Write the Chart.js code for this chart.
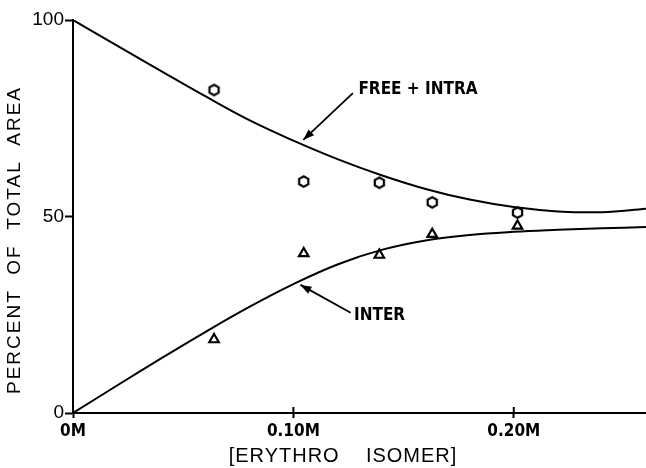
<!DOCTYPE html>
<html><head><meta charset="utf-8">
<script src="https://cdn.jsdelivr.net/npm/chart.js@4/dist/chart.umd.min.js"></script>
<style>html,body{margin:0;padding:0;background:#fff}#wrap{width:646px;height:468px;position:relative}</style>
</head><body><div id="wrap"><canvas id="c"></canvas></div>
<script>
// Fitted curves (x in mol/L, y in percent)
const freeIntraCurveX = [0, 0.02, 0.04, 0.06, 0.08, 0.10, 0.12, 0.14, 0.16, 0.18, 0.20, 0.22, 0.24, 0.26];
const freeIntraCurveY = [100, 93.5, 87.0, 80.6, 74.5, 69.3, 64.6, 60.5, 57.0, 54.3, 52.4, 51.3, 51.1, 52.0];
const interCurveX = [0, 0.02, 0.04, 0.06, 0.08, 0.10, 0.12, 0.14, 0.16, 0.18, 0.20, 0.22, 0.24, 0.26];
const interCurveY = [0, 7.0, 13.9, 20.6, 27.0, 32.8, 37.8, 41.5, 43.9, 45.3, 46.1, 46.6, 47.0, 47.3];
// Measured points
const sampleX = [0.064, 0.1047, 0.139, 0.163, 0.2017];
const freeIntraPoints = [82.2, 58.9, 58.6, 53.6, 51.0];
const interPoints = [18.7, 40.6, 40.2, 45.5, 47.6];
// Axes
const xTicks = [0, 0.1, 0.2];
const xTickLabels = ['0M', '0.10M', '0.20M'];
const yTicks = [0, 50, 100];
const xTitle = '[ERYTHRO    ISOMER]';
const yTitle = 'PERCENT  OF  TOTAL  AREA';
// Curve labels (anchor positions in data units)
const curveLabels = [
  {text: 'FREE + INTRA', at: [0.1295, 82.4], from: [0.127, 81.4], to: [0.1045, 69.5]},
  {text: 'INTER', at: [0.1275, 24.9], from: [0.126, 25.5], to: [0.1032, 32.6]}
];

const pts = (xs, ys) => xs.map((x, i) => ({x, y: ys[i]}));

function hexImage(r) {
  const s = Math.ceil(r * 2 + 4);
  const cv = document.createElement('canvas');
  cv.width = s; cv.height = s;
  const g = cv.getContext('2d');
  g.beginPath();
  for (let k = 0; k < 6; k++) {
    const a = Math.PI / 2 + k * Math.PI / 3;
    const px = s / 2 + r * Math.cos(a), py = s / 2 + r * Math.sin(a);
    k ? g.lineTo(px, py) : g.moveTo(px, py);
  }
  g.closePath();
  g.fillStyle = '#fff'; g.fill();
  g.lineWidth = 2.2; g.strokeStyle = '#000'; g.stroke();
  return cv;
}

const overlay = {
  id: 'overlay',
  afterDraw(chart) {
    const {ctx, scales: {x, y}} = chart;
    ctx.save();
    // x tick crosses above the axis
    ctx.strokeStyle = '#000'; ctx.lineWidth = 2;
    xTicks.forEach(v => {
      if (v === 0) return;
      const px = x.getPixelForValue(v);
      ctx.beginPath(); ctx.moveTo(px, y.bottom - 6); ctx.lineTo(px, y.bottom); ctx.stroke();
    });
    // curve labels and arrows
    ctx.fillStyle = '#000';
    ctx.font = 'bold 17px "Liberation Sans Narrow", "DejaVu Sans Condensed", sans-serif';
    ctx.textBaseline = 'middle'; ctx.textAlign = 'left';
    curveLabels.forEach(l => {
      ctx.fillText(l.text, x.getPixelForValue(l.at[0]), y.getPixelForValue(l.at[1]));
      const x0 = x.getPixelForValue(l.from[0]), y0 = y.getPixelForValue(l.from[1]);
      const x1 = x.getPixelForValue(l.to[0]), y1 = y.getPixelForValue(l.to[1]);
      ctx.lineWidth = 1.8;
      ctx.beginPath(); ctx.moveTo(x0, y0); ctx.lineTo(x1, y1); ctx.stroke();
      const ang = Math.atan2(y1 - y0, x1 - x0), L = 11, W = 4;
      ctx.beginPath();
      ctx.moveTo(x1, y1);
      ctx.lineTo(x1 - L * Math.cos(ang) + W * Math.sin(ang), y1 - L * Math.sin(ang) - W * Math.cos(ang));
      ctx.lineTo(x1 - L * Math.cos(ang) - W * Math.sin(ang), y1 - L * Math.sin(ang) + W * Math.cos(ang));
      ctx.closePath(); ctx.fill();
    });
    // axis titles
    ctx.font = '20px "Liberation Sans", Arial, sans-serif';
    ctx.textAlign = 'center'; ctx.textBaseline = 'middle';
    ctx.letterSpacing = '1px';
    ctx.fillText(xTitle, 343, 456);
    ctx.save();
    ctx.translate(15, 240); ctx.rotate(-Math.PI / 2);
    ctx.font = '19px "Liberation Sans", Arial, sans-serif';
    ctx.letterSpacing = '2px';
    ctx.fillText(yTitle, 0, 0);
    ctx.restore();
    ctx.restore();
  }
};

new Chart(document.getElementById('c'), {
  type: 'scatter',
  data: {
    datasets: [
      {data: pts(freeIntraCurveX, freeIntraCurveY), showLine: true, borderColor: '#000', borderWidth: 2,
       pointRadius: 0, tension: 0.4, fill: false},
      {data: pts(interCurveX, interCurveY), showLine: true, borderColor: '#000', borderWidth: 2,
       pointRadius: 0, tension: 0.4, fill: false},
      {data: pts(sampleX, freeIntraPoints), pointStyle: hexImage(5.3), pointRadius: 7},
      {data: pts(sampleX, interPoints), pointStyle: 'triangle', pointRadius: 5.5,
       backgroundColor: '#fff', borderColor: '#000', borderWidth: 2.2}
    ]
  },
  options: {
    responsive: true, maintainAspectRatio: false, animation: false,
    layout: {autoPadding: false, padding: {top: 20, right: 0, left: 0, bottom: 0}},
    plugins: {legend: {display: false}, tooltip: {enabled: false}},
    scales: {
      x: {
        type: 'linear', min: 0, max: 0.26,
        afterBuildTicks: s => { s.ticks = xTicks.map(v => ({value: v})); },
        afterFit: s => { s.height = 55; s.paddingRight = 0; s.paddingLeft = 0; },
        border: {color: '#000', width: 2},
        grid: {drawOnChartArea: false, drawTicks: true, tickLength: 5, tickColor: '#000', tickWidth: 2},
        ticks: {color: '#000', padding: 3, maxRotation: 0,
          font: {family: '"Liberation Sans Narrow", "DejaVu Sans Condensed", sans-serif', size: 17, weight: 'bold'},
          callback: (v) => xTickLabels[xTicks.indexOf(v)]}
      },
      y: {
        min: 0, max: 100,
        afterBuildTicks: s => { s.ticks = yTicks.map(v => ({value: v})); },
        afterFit: s => { s.width = 73; },
        border: {color: '#000', width: 2},
        grid: {drawOnChartArea: false, drawTicks: true, tickLength: 8, tickColor: '#000', tickWidth: 2},
        ticks: {color: '#000', padding: 1,
          font: {family: '"Liberation Sans", Arial, sans-serif', size: 19}}
      }
    }
  },
  plugins: [overlay]
});
</script></body></html>
